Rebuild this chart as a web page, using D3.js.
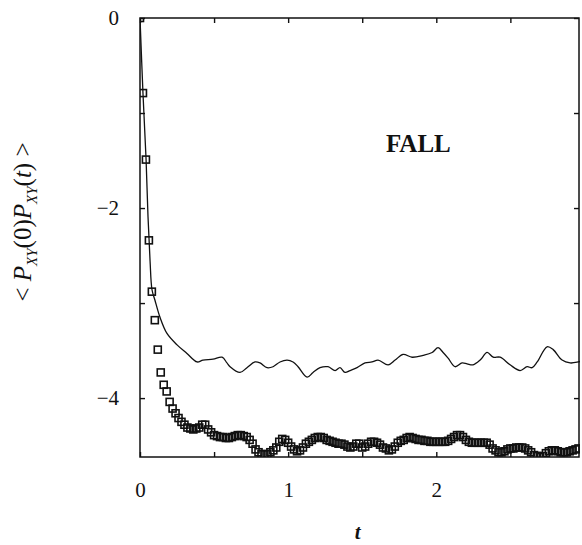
<!DOCTYPE html>
<html>
<head>
<meta charset="utf-8">
<script src="https://cdn.jsdelivr.net/npm/d3@7"></script>
<style>
  body { margin: 0; background: #fff; }
  text { font-family: "Liberation Serif", "DejaVu Serif", serif; fill: #111; }
</style>
</head>
<body>
<div id="chart"></div>
<script>
// squares: sampled every dt = 0.02 starting at t = 0
const dt = 0.02;
const squareVals = [
  0, -0.79, -1.49, -2.34, -2.88, -3.18, -3.49, -3.73, -3.86, -3.93,
  -4.04, -4.11, -4.16, -4.21, -4.25, -4.28, -4.31, -4.32, -4.33, -4.32,
  -4.31, -4.28, -4.28, -4.33, -4.36, -4.39, -4.40, -4.41, -4.41, -4.42,
  -4.42, -4.41, -4.40, -4.39, -4.39, -4.40, -4.41, -4.44, -4.48, -4.54,
  -4.57, -4.59, -4.59, -4.59, -4.57, -4.55, -4.52, -4.46, -4.43, -4.44,
  -4.47, -4.51, -4.54, -4.56, -4.55, -4.52, -4.48, -4.46, -4.44, -4.42,
  -4.41, -4.41, -4.42, -4.44, -4.45, -4.46, -4.47, -4.48, -4.48, -4.49,
  -4.51, -4.52, -4.51, -4.48, -4.48, -4.52, -4.51, -4.48, -4.46, -4.46,
  -4.47, -4.49, -4.52, -4.53, -4.55, -4.54, -4.51, -4.47, -4.45, -4.44,
  -4.42, -4.41, -4.42, -4.43, -4.44, -4.44, -4.45, -4.45, -4.46, -4.46,
  -4.46, -4.46, -4.46, -4.46, -4.45, -4.43, -4.41, -4.39, -4.39, -4.41,
  -4.44, -4.46, -4.47, -4.47, -4.47, -4.47, -4.47, -4.47, -4.49, -4.53,
  -4.55, -4.57, -4.57, -4.56, -4.54, -4.53, -4.53, -4.52, -4.52, -4.52,
  -4.53, -4.55, -4.57, -4.60, -4.61, -4.62, -4.61, -4.58, -4.56, -4.55,
  -4.55, -4.56, -4.57, -4.57, -4.57, -4.56, -4.55, -4.54, -4.53
];

// solid line, read at irregular times
const lineT = [
  0, 0.020, 0.041, 0.054, 0.068, 0.081, 0.101, 0.135, 0.182, 0.250,
  0.317, 0.385, 0.425, 0.493, 0.554, 0.587, 0.608, 0.675, 0.722, 0.776,
  0.810, 0.858, 0.898, 0.945, 0.993, 1.033, 1.067, 1.128, 1.168, 1.215,
  1.269, 1.317, 1.350, 1.384, 1.418, 1.465, 1.519, 1.566, 1.607, 1.675,
  1.722, 1.776, 1.837, 1.911, 1.972, 2.012, 2.046, 2.080, 2.127, 2.174,
  2.208, 2.248, 2.296, 2.343, 2.384, 2.431, 2.498, 2.566, 2.613, 2.647,
  2.681, 2.748, 2.789, 2.849, 2.903, 2.957, 2.98
];
const lineV = [
  0, -0.79, -1.49, -2.09, -2.56, -2.86, -2.97, -3.15, -3.32, -3.44,
  -3.53, -3.62, -3.60, -3.59, -3.57, -3.63, -3.67, -3.73, -3.68, -3.62,
  -3.63, -3.68, -3.67, -3.62, -3.60, -3.62, -3.67, -3.78, -3.73, -3.68,
  -3.67, -3.71, -3.68, -3.73, -3.71, -3.68, -3.63, -3.62, -3.60, -3.65,
  -3.60, -3.54, -3.57, -3.55, -3.52, -3.47, -3.52, -3.58, -3.67, -3.63,
  -3.64, -3.65, -3.60, -3.52, -3.57, -3.57, -3.65, -3.71, -3.67, -3.68,
  -3.62, -3.46, -3.49, -3.60, -3.63, -3.62, -3.61
];

const xTicks = [0, 0.5, 1, 1.5, 2, 2.5];
const yTicks = [-4, -3, -2, -1, 0];
const xLabels = [0, 1, 2];
const yLabels = [0, -2, -4];

const width = 582, height = 545;
const margin = ({ top: 18, right: 2, bottom: 88, left: 140 });

const svg = d3.select("#chart")
  .append("svg")
  .attr("width", width)
  .attr("height", height)
  .attr("viewBox", [0, 0, width, height]);

const x = d3.scaleLinear()
  .domain([0, 2.97])
  .range([margin.left, width - margin.right]);

const y = d3.scaleLinear()
  .domain([-4.62, 0])
  .range([height - margin.bottom, margin.top]);

const fmt = d => d < 0 ? "\u2212" + Math.abs(d) : String(d);

// clip so squares stay in the frame
svg.append("clipPath").attr("id", "clip")
  .append("rect")
  .attr("x", x.range()[0]).attr("y", y.range()[1])
  .attr("width", x.range()[1] - x.range()[0])
  .attr("height", y.range()[0] - y.range()[1]);

// bottom axis
svg.append("g")
  .attr("transform", `translate(0,${y.range()[0]})`)
  .call(d3.axisBottom(x).tickValues(xTicks).tickSize(-5).tickPadding(25)
    .tickFormat(d => xLabels.includes(d) ? fmt(d) : ""))
  .call(g => g.select(".domain").remove())
  .call(g => g.selectAll("text").style("font-size", "21px").attr("fill", "#111"));

// top axis, ticks only
svg.append("g")
  .attr("transform", `translate(0,${y.range()[1]})`)
  .call(d3.axisTop(x).tickValues(xTicks).tickSize(-5).tickFormat(""))
  .call(g => g.select(".domain").remove());

// left axis
svg.append("g")
  .attr("transform", `translate(${x.range()[0]},0)`)
  .call(d3.axisLeft(y).tickValues(yTicks).tickSize(-5).tickPadding(21)
    .tickFormat(d => yLabels.includes(d) ? fmt(d) : ""))
  .call(g => g.select(".domain").remove())
  .call(g => g.selectAll("text").style("font-size", "21px").attr("fill", "#111"));

// right axis, ticks only
svg.append("g")
  .attr("transform", `translate(${x.range()[1] - 1},0)`)
  .call(d3.axisRight(y).tickValues(yTicks).tickSize(-5).tickFormat(""))
  .call(g => g.select(".domain").remove());

svg.selectAll(".tick line").attr("stroke", "#111").attr("stroke-width", 1.4);

// frame
svg.append("rect")
  .attr("x", x.range()[0])
  .attr("y", y.range()[1])
  .attr("width", x.range()[1] - x.range()[0] - 1)
  .attr("height", y.range()[0] - y.range()[1])
  .attr("fill", "none")
  .attr("stroke", "#111")
  .attr("stroke-width", 1.5);

const plot = svg.append("g").attr("clip-path", "url(#clip)");

// solid line
const lineData = lineT.map((t, i) => [t, lineV[i]]);
plot.append("path")
  .datum(lineData)
  .attr("fill", "none")
  .attr("stroke", "#111")
  .attr("stroke-width", 1.3)
  .attr("d", d3.line()
    .x(d => x(d[0]))
    .y(d => y(d[1]))
    .curve(d3.curveCatmullRom));

// squares
const sq = 7;
plot.selectAll(".sq")
  .data(squareVals)
  .join("rect")
  .attr("class", "sq")
  .attr("x", (d, i) => x(i * dt) - sq / 2)
  .attr("y", d => y(d) - sq / 2)
  .attr("width", sq)
  .attr("height", sq)
  .attr("fill", "none")
  .attr("stroke", "#111")
  .attr("stroke-width", 1.6);

// annotation
svg.append("text")
  .attr("x", x(1.66))
  .attr("y", y(-1.41))
  .style("font-size", "25px")
  .style("font-weight", "bold")
  .text("FALL");

// x label
svg.append("text")
  .attr("x", x(1.47))
  .attr("y", 539)
  .attr("text-anchor", "middle")
  .style("font-size", "21px")
  .style("font-style", "italic")
  .style("font-weight", "bold")
  .text("t");

// y label with subscripts
const yl = svg.append("text")
  .attr("transform", "translate(31,222) rotate(-90)")
  .attr("text-anchor", "middle")
  .style("font-size", "25px");
yl.append("tspan").text("< ");
yl.append("tspan").style("font-style", "italic").text("P");
yl.append("tspan").attr("dy", 6).style("font-size", "15px").style("font-style", "italic").text("XY");
yl.append("tspan").attr("dy", -6).text("(0)");
yl.append("tspan").style("font-style", "italic").text("P");
yl.append("tspan").attr("dy", 6).style("font-size", "15px").style("font-style", "italic").text("XY");
yl.append("tspan").attr("dy", -6).text("(");
yl.append("tspan").style("font-style", "italic").text("t");
yl.append("tspan").text(") >");
</script>
</body>
</html>
